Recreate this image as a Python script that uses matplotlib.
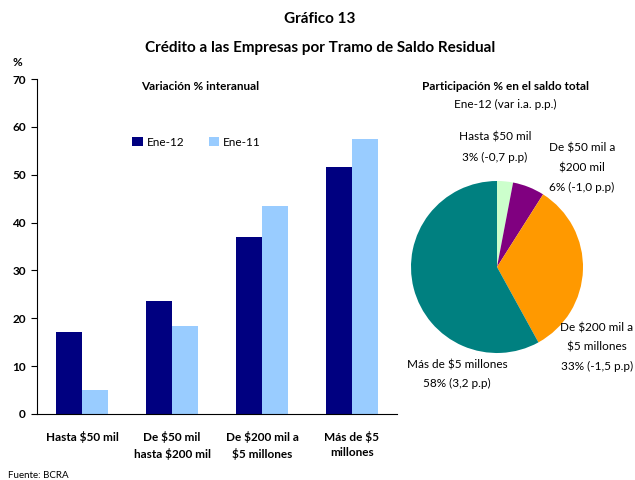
import matplotlib
matplotlib.use("Agg")
import matplotlib.pyplot as plt
import numpy as np

plt.rcParams['font.family'] = ['Lato', 'DejaVu Sans']

categories = ["Hasta $50 mil", "De $50 mil\nhasta $200 mil", "De $200 mil a\n$5 millones", "Más de $5\nmillones"]
ene12 = [17.1, 23.6, 37.0, 51.6]
ene11 = [5.0, 18.4, 43.5, 57.5]
series_names = ["Ene-12", "Ene-11"]

pie_labels = ["Hasta $50 mil", "De $50 mil a $200 mil", "De $200 mil a $5 millones", "Más de $5 millones"]
pie_shares = [3, 6, 33, 58]
pie_changes = ["-0,7", "-1,0", "-1,5", "3,2"]
pie_colors = ["#CCFFCC", "#800080", "#FF9900", "#008080"]

W, H = 635, 480
fig = plt.figure(figsize=(W / 100, H / 100), dpi=100)

def fx(px):
    return px / W

def fy(py):
    return 1 - py / H

# Bar axes
ax = fig.add_axes([fx(37), fy(414), fx(397) - fx(37), fy(79) - fy(414)])
x = np.arange(len(categories))
w = 0.29
ax.bar(x - w / 2, ene12, width=w, color="#000080", label=series_names[0])
ax.bar(x + w / 2, ene11, width=w, color="#99CCFF", label=series_names[1])
ax.set_xlim(-0.5, len(categories) - 0.5)
ax.set_ylim(0, 70)
ax.set_yticks(range(0, 71, 10))
ax.set_yticklabels([str(v) for v in range(0, 71, 10)], fontsize=8.5, fontweight='bold')
ax.set_xticks(x)
ax.set_xticklabels(categories, fontsize=8.5, fontweight='bold', linespacing=1.5)
ax.tick_params(axis='x', length=0, pad=12)
ax.tick_params(axis='y', length=4, direction='out', pad=4)
for s in ['top', 'right']:
    ax.spines[s].set_visible(False)
ax.spines['left'].set_linewidth(0.8)
ax.spines['bottom'].set_linewidth(0.8)
ax.legend(loc='upper left', bbox_to_anchor=(0.235, 0.86), ncol=2, frameon=False,
          fontsize=8.5, handlelength=0.9, handleheight=0.9, columnspacing=2.1, handletextpad=0.3)

# Pie axes
pax = fig.add_axes([fx(411), fy(353), fx(583) - fx(411), fy(181) - fy(353)])
pax.pie(pie_shares, colors=pie_colors, startangle=90, counterclock=False,
        wedgeprops=dict(linewidth=0))
pax.set_xlim(-1, 1)
pax.set_ylim(-1, 1)
pax.set_aspect('equal')

# Texts
fig.text(fx(320), fy(19), "Gráfico 13", ha='center', va='center', fontsize=11, fontweight='bold')
fig.text(fx(320), fy(48), "Crédito a las Empresas por Tramo de Saldo Residual", ha='center', va='center',
         fontsize=11, fontweight='bold')
fig.text(fx(17), fy(62), "%", ha='center', va='center', fontsize=8.5, fontweight='bold')
fig.text(fx(200), fy(87), "Variación % interanual", ha='center', va='center', fontsize=8.5, fontweight='bold')
fig.text(fx(505), fy(87), "Participación % en el saldo total", ha='center', va='center', fontsize=8.5, fontweight='bold')
fig.text(fx(505), fy(104), "Ene-12 (var i.a. p.p.)", ha='center', va='center', fontsize=8.5)
fig.text(fx(8), fy(475), "Fuente: BCRA", ha='left', va='center', fontsize=7)

def pie_text(cx, cys, lines):
    for cy, t in zip(cys, lines):
        fig.text(fx(cx), fy(cy), t, ha='center', va='center', fontsize=8.5)

pie_text(495, [137, 157], ["Hasta $50 mil", f"{pie_shares[0]}% ({pie_changes[0]} p.p)"])
pie_text(582, [148, 168, 187], ["De $50 mil a", "$200 mil", f"{pie_shares[1]}% ({pie_changes[1]} p.p)"])
pie_text(597, [328, 347, 366], ["De $200 mil a", "$5 millones", f"{pie_shares[2]}% ({pie_changes[2]} p.p)"])
pie_text(457, [365, 383], ["Más de $5 millones", f"{pie_shares[3]}% ({pie_changes[3]} p.p)"])

fig.savefig("out.png", dpi=100)
